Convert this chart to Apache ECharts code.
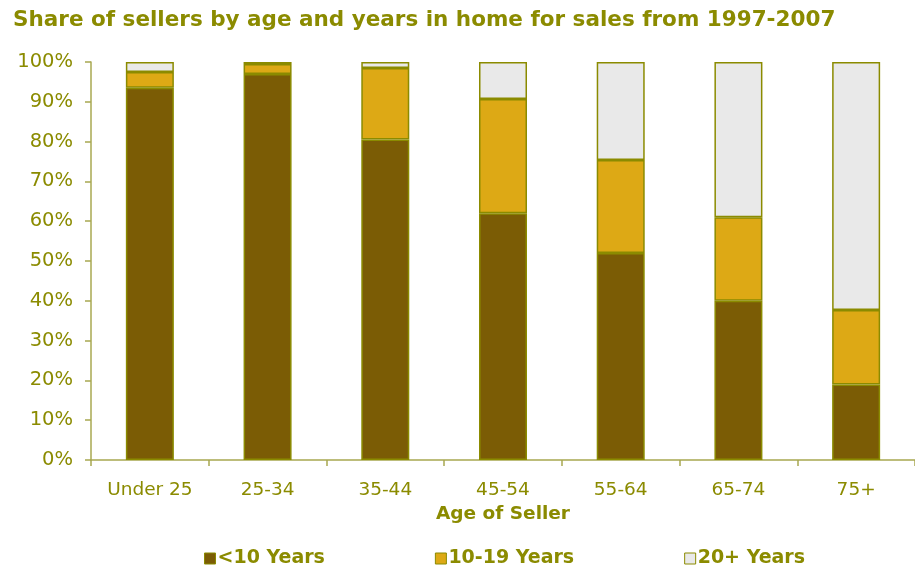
<!DOCTYPE html>
<html>
<head>
<meta charset="utf-8">
<script src="https://cdn.jsdelivr.net/npm/echarts@6/dist/echarts.min.js"></script>
<style>
  html, body { margin: 0; padding: 0; background: #fff; }
  #chart { width: 915px; height: 568px; }
</style>
</head>
<body>
<div id="chart"></div>
<script>
// data
const ageGroups = ['Under 25', '25-34', '35-44', '45-54', '55-64', '65-74', '75+']
const under10 = [93.5, 97, 80.5, 62, 52, 40, 19]
const from10to19 = [4, 2.5, 18, 28.7, 23.4, 21, 18.7]
const over20 = [2.5, 0.5, 1.5, 9.3, 24.6, 39, 62.3]
const seriesNames = ['<10 Years', '10-19 Years', '20+ Years']
const seriesColors = ['#7B5C05', '#DDA915', '#E9E9E9']

const olive = '#8B8B00'
const font = '"DejaVu Sans", Verdana, sans-serif'

const chart = echarts.init(document.getElementById('chart'))

const makeSeries = (name, values, color) => ({
  name: name,
  type: 'bar',
  stack: 'share',
  barWidth: 48,
  data: values,
  itemStyle: { color: color, borderColor: olive, borderWidth: 1.5 },
  emphasis: { disabled: true }
})

chart.setOption({
  animation: false,
  title: {
    text: 'Share of sellers by age and years in home for sales from 1997-2007',
    left: 8,
    top: 4,
    textStyle: { fontFamily: font, fontSize: 21.5, fontWeight: 'bold', color: olive }
  },
  legend: {
    top: 544,
    left: 199,
    itemGap: 110,
    itemWidth: 11,
    itemHeight: 11,
    icon: 'rect',
    textStyle: { fontFamily: font, fontSize: 19, fontWeight: 'bold', color: olive, padding: [0, 0, 0, -3] },
    itemStyle: { borderColor: olive, borderWidth: 1 },
    data: seriesNames
  },
  grid: { left: 91, top: 62, width: 833, height: 398, containLabel: false },
  xAxis: {
    type: 'category',
    data: ageGroups,
    name: 'Age of Seller',
    nameLocation: 'middle',
    nameGap: 41,
    nameTextStyle: { fontFamily: font, fontSize: 18.5, fontWeight: 'bold', color: olive },
    axisLine: { lineStyle: { color: '#A8A850', width: 1.5 } },
    axisTick: { show: true, length: 6, lineStyle: { color: '#A8A850', width: 1.5 } },
    axisLabel: { fontFamily: font, fontSize: 18.5, color: olive, margin: 21 }
  },
  yAxis: {
    type: 'value',
    min: 0,
    max: 100,
    interval: 10,
    axisLine: { show: true, lineStyle: { color: '#A8A850', width: 1.5 } },
    axisTick: { show: true, length: 6, lineStyle: { color: '#A8A850', width: 1.5 } },
    splitLine: { show: false },
    axisLabel: { fontFamily: font, fontSize: 19.5, color: olive, margin: 18, formatter: '{value}%' }
  },
  series: [
    makeSeries(seriesNames[0], under10, seriesColors[0]),
    makeSeries(seriesNames[1], from10to19, seriesColors[1]),
    makeSeries(seriesNames[2], over20, seriesColors[2])
  ]
})
</script>
</body>
</html>
